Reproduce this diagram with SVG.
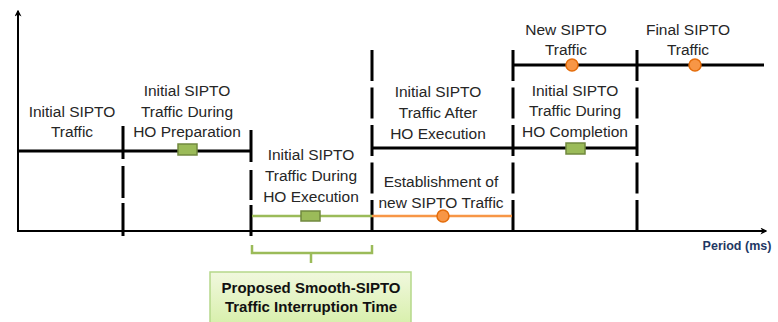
<svg xmlns="http://www.w3.org/2000/svg" width="778" height="322" viewBox="0 0 778 322">
<style>
.t{font-family:"Liberation Sans",Arial,sans-serif;font-size:15.5px;fill:#262626;text-anchor:middle}
.b{font-family:"Liberation Sans",Arial,sans-serif;font-weight:bold;fill:#111;text-anchor:middle}
.k{stroke:#000;stroke-width:3;fill:none}
.ax{stroke:#000;stroke-width:2;fill:none}
.d{stroke:#000;stroke-width:3;fill:none;stroke-dasharray:31 6.5}
.g{fill:#9BBB59;stroke:#71893F;stroke-width:1.5}
.o{fill:#F79646;stroke:#E46C0A;stroke-width:1.5}
</style>
<defs>
<marker id="ar" viewBox="0 0 10 10" refX="8" refY="5" markerWidth="7" markerHeight="7" orient="auto" markerUnits="userSpaceOnUse">
<path d="M0,0 L10,5 L0,10 L3,5 Z" fill="#000"/>
</marker>
<linearGradient id="bg" x1="0" y1="0" x2="0" y2="1">
<stop offset="0" stop-color="#F1F8DE"/>
<stop offset="1" stop-color="#D6EFA8"/>
</linearGradient>
</defs>
<g id="connectors">
<line class="ax" x1="18" y1="232" x2="18" y2="11" marker-end="url(#ar)"/>
<line class="ax" x1="18" y1="231" x2="766" y2="231" marker-end="url(#ar)"/>
<line class="d" x1="123" y1="126" x2="123" y2="236" style="stroke-dasharray:33 7 32 5 40"/>
<line class="d" x1="251" y1="130" x2="251" y2="236" style="stroke-dasharray:32 8 30 5 40"/>
<line class="d" x1="372" y1="50" x2="372" y2="234"/>
<line class="d" x1="513" y1="50" x2="513" y2="234"/>
<line class="d" x1="637" y1="50" x2="637" y2="234"/>
<line class="k" x1="18" y1="151" x2="251" y2="151"/>
<line class="k" x1="372" y1="148" x2="637" y2="148"/>
<line class="k" x1="513" y1="65" x2="764" y2="65"/>
<line x1="252" y1="216" x2="372" y2="216" stroke="#9BBB59" stroke-width="2.5"/>
<line x1="372" y1="216" x2="512" y2="216" stroke="#F79646" stroke-width="2.5"/>
<path d="M252,245 V253 H372 V245 M311,253 V263" stroke="#9BBB59" stroke-width="2.5" fill="none"/>
</g>
<g id="markers">
<rect class="g" x="178" y="144" width="19" height="11"/>
<rect class="g" x="566" y="143" width="19" height="11"/>
<rect class="g" x="301" y="211" width="19" height="10"/>
<circle class="o" cx="572" cy="65" r="6"/>
<circle class="o" cx="695" cy="65" r="6"/>
<circle class="o" cx="443" cy="216" r="6"/>
</g>
<g id="n-initial">
<text class="t" x="72" y="117">Initial SIPTO</text>
<text class="t" x="72" y="137">Traffic</text>
</g>
<g id="n-prep">
<text class="t" x="187" y="96">Initial SIPTO</text>
<text class="t" x="187" y="117">Traffic During</text>
<text class="t" x="187" y="137">HO Preparation</text>
</g>
<g id="n-exec">
<text class="t" x="311" y="160">Initial SIPTO</text>
<text class="t" x="311" y="181">Traffic During</text>
<text class="t" x="311" y="202">HO Execution</text>
</g>
<g id="n-after">
<text class="t" x="438" y="97">Initial SIPTO</text>
<text class="t" x="438" y="118">Traffic  After</text>
<text class="t" x="438" y="139">HO Execution</text>
</g>
<g id="n-establish">
<text class="t" x="441" y="187">Establishment of</text>
<text class="t" x="441" y="208">new SIPTO Traffic</text>
</g>
<g id="n-new">
<text class="t" x="566" y="35">New SIPTO</text>
<text class="t" x="566" y="55">Traffic</text>
</g>
<g id="n-completion">
<text class="t" x="575" y="96">Initial SIPTO</text>
<text class="t" x="575" y="116">Traffic During</text>
<text class="t" x="575" y="137">HO Completion</text>
</g>
<g id="n-final">
<text class="t" x="688" y="35">Final SIPTO</text>
<text class="t" x="688" y="55">Traffic</text>
</g>
<g id="n-period">
<text class="b" x="737" y="250" style="font-size:12.5px;fill:#1F3864">Period (ms)</text>
</g>
<g id="n-proposed">
<rect x="210" y="272" width="201" height="56" fill="url(#bg)" stroke="#B5D88A" stroke-width="1.5"/>
<text class="b" x="311" y="293" style="font-size:15px">Proposed Smooth-SIPTO</text>
<text class="b" x="311" y="312" style="font-size:15px">Traffic Interruption Time</text>
</g>
</svg>
